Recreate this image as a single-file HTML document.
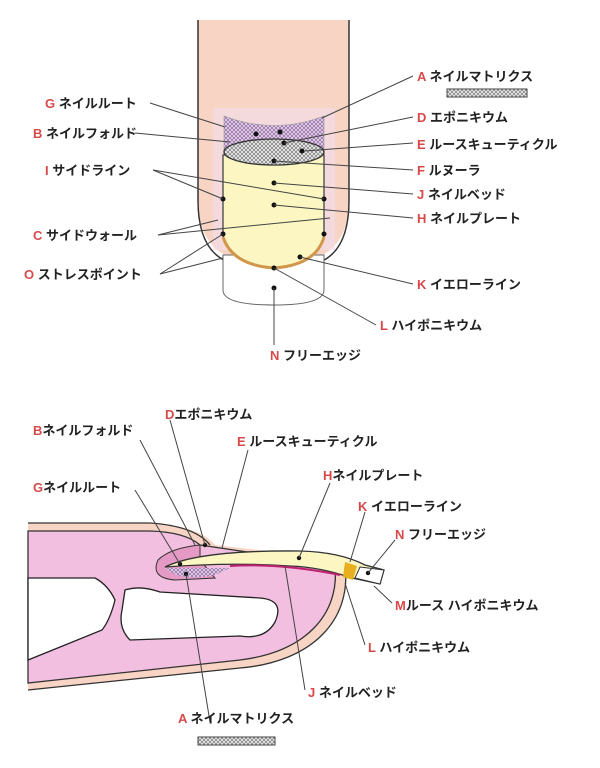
<!DOCTYPE html>
<html><head><meta charset="utf-8"><style>
html,body{margin:0;padding:0;background:#fff;}
svg{display:block}
text{font-family:"Liberation Sans","Noto Sans CJK JP",sans-serif;font-size:13px;fill:#222;font-weight:bold}
tspan.r{fill:#d84a4a}
</style></head><body>
<svg width="600" height="768" viewBox="0 0 600 768" xmlns="http://www.w3.org/2000/svg">
<defs>
<pattern id="h" width="4" height="4" patternUnits="userSpaceOnUse"><rect width="4" height="4" fill="#eee"/><path d="M0 4L4 0M0 0L4 4" stroke="#777" stroke-width="0.7"/></pattern>
<pattern id="hp" width="4" height="4" patternUnits="userSpaceOnUse"><rect width="4" height="4" fill="#e9d2ee"/><path d="M0 4L4 0M0 0L4 4" stroke="#8a6a9a" stroke-width="0.7"/></pattern>
</defs>
<!-- TOP finger -->
<path d="M198 20 L349 20 L349 200 Q349 255 300 262 L248 262 Q198 255 198 200 Z" fill="#f8d4c4"/>
<path d="M198 20 L198 200 Q198 250 228 262" fill="none" stroke="#333" stroke-width="1.5"/>
<path d="M349 20 L349 200 Q349 250 320 262" fill="none" stroke="#333" stroke-width="1.5"/>
<path d="M213 108 L335 108 L335 250 L213 250Z" fill="#f3dde8" opacity="0.7"/>
<path d="M224 116 Q274 135 324 116 L324 155 L224 155Z" fill="url(#hp)" stroke="#999" stroke-width="0.6"/>
<path d="M223 290 L223 255 L324 255 L324 290 Q324 305 274 305 Q223 305 223 290Z" fill="#fff" stroke="#666" stroke-width="1"/>
<path d="M223 155 L223 235 Q230 265 274 268 Q318 265 324 235 L324 155 Z" fill="#fbf6c2" stroke="#444" stroke-width="1.3"/>
<path d="M223 237 Q232 265 274 268 Q316 265 324 237" fill="none" stroke="#d0964a" stroke-width="3"/>
<ellipse cx="274" cy="152" rx="50" ry="13" fill="url(#h)" stroke="#333" stroke-width="1.3"/>
<g fill="#111"><circle cx="256" cy="134" r="2.5"/><circle cx="280" cy="132" r="2.5"/><circle cx="284" cy="143" r="2.5"/><circle cx="302" cy="151" r="2.5"/><circle cx="274" cy="161" r="2.5"/><circle cx="274" cy="183" r="2.5"/><circle cx="274" cy="205" r="2.5"/><circle cx="223" cy="199" r="2.5"/><circle cx="324" cy="199" r="2.5"/><circle cx="223" cy="234" r="2.5"/><circle cx="324" cy="234" r="2.5"/><circle cx="300" cy="257" r="2.5"/><circle cx="274" cy="268" r="2.5"/><circle cx="274" cy="288" r="2.5"/></g>
<g stroke="#444" stroke-width="1" fill="none">
<path d="M150 103 L225 127"/><path d="M135 133 L230 142"/><path d="M413 76 L322 118"/><path d="M413 117 L284 143"/><path d="M413 143 L305 151"/><path d="M413 170 L274 161"/><path d="M413 194 L274 183"/><path d="M413 218 L274 205"/>
<path d="M153 170 L223 199"/><path d="M153 170 L324 199"/><path d="M158 235 L218 220"/><path d="M158 235 L330 218"/>
<path d="M160 274 L223 234"/><path d="M160 274 L223 258"/><path d="M413 284 L300 257"/><path d="M376 325 L274 268"/><path d="M274 288 L274 345"/>
</g>
<rect x="447" y="89" width="80" height="8" fill="url(#h)" stroke="#444" stroke-width="1"/>
<text x="417" y="81"><tspan class="r">A</tspan> ネイルマトリクス</text>
<text x="45" y="108"><tspan class="r">G</tspan> ネイルルート</text>
<text x="417" y="122"><tspan class="r">D</tspan> エポニキウム</text>
<text x="33" y="138"><tspan class="r">B</tspan> ネイルフォルド</text>
<text x="417" y="149"><tspan class="r">E</tspan> ルースキューティクル</text>
<text x="45" y="175"><tspan class="r">I</tspan> サイドライン</text>
<text x="417" y="175"><tspan class="r">F</tspan> ルヌーラ</text>
<text x="417" y="199"><tspan class="r">J</tspan> ネイルベッド</text>
<text x="417" y="223"><tspan class="r">H</tspan> ネイルプレート</text>
<text x="33" y="240"><tspan class="r">C</tspan> サイドウォール</text>
<text x="24" y="279"><tspan class="r">O</tspan> ストレスポイント</text>
<text x="417" y="289"><tspan class="r">K</tspan> イエローライン</text>
<text x="380" y="330"><tspan class="r">L</tspan> ハイポニキウム</text>
<text x="270" y="360"><tspan class="r">N</tspan> フリーエッジ</text>
<!-- BOTTOM -->
<path d="M28 523 L150 523 Q200 526 215 545 L345 560 C352 620 312 662 240 668 L28 690 Z" fill="#f8d4c4"/>
<path d="M28 531 L150 531 Q185 532 200 545 L335 565 C340 615 305 652 240 660 L28 683 Z" fill="#f2bfe0" stroke="#333" stroke-width="1.3"/>
<path d="M28 523 L150 523 Q195 526 210 545" fill="none" stroke="#333" stroke-width="1.3"/>
<path d="M28 690 L240 668 C312 662 352 620 345 565" fill="none" stroke="#333" stroke-width="1.3"/>
<path d="M200 545 Q170 548 158 560 Q150 578 175 580 L215 578 L200 560Z" fill="#e49ac4" stroke="#333" stroke-width="1"/>
<path d="M165 568 Q180 582 215 575 L230 568Z" fill="url(#hp)"/>
<path d="M28 578 L95 578 Q108 585 115 600 Q110 620 102 630 L28 660Z" fill="#fff" stroke="#222" stroke-width="1.3"/>
<path d="M125 590 Q140 585 160 592 L260 598 Q285 600 275 622 Q265 640 240 636 L130 640 Q118 628 122 610Z" fill="#fff" stroke="#222" stroke-width="1.3"/>
<path d="M165 567 Q200 550 300 551 Q340 552 365 565 L384 570 L380 584 L352 578 Q320 567 290 566 Q230 562 165 567Z" fill="#fbf6c2" stroke="#333" stroke-width="1.3"/>
<path d="M345 562 L357 566 L353 580 L343 577Z" fill="#e8b020"/>
<path d="M360 567 L384 570 L380 584 L355 578Z" fill="#fff" stroke="#333" stroke-width="1"/>
<path d="M230 566 Q280 563 340 575" fill="none" stroke="#c02070" stroke-width="2"/>
<g fill="#111"><circle cx="180" cy="564" r="2.2"/><circle cx="186" cy="574" r="2.2"/><circle cx="205" cy="545" r="2.2"/><circle cx="299" cy="558" r="2.2"/><circle cx="368" cy="573" r="2.2"/></g>
<g stroke="#444" stroke-width="1" fill="none">
<path d="M140 440 L195 545"/><path d="M170 420 L205 545"/><path d="M248 450 L222 548"/><path d="M135 490 L180 564"/><path d="M330 483 L299 558"/><path d="M365 512 L350 562"/><path d="M395 540 L368 573"/><path d="M392 603 L374 586"/><path d="M365 645 L345 583"/><path d="M305 690 L285 566"/><path d="M210 722 L186 574"/>
</g>
<rect x="198" y="737" width="77" height="8" fill="url(#h)" stroke="#444" stroke-width="1"/>
<text x="33" y="435"><tspan class="r">B</tspan>ネイルフォルド</text>
<text x="165" y="419"><tspan class="r">D</tspan>エポニキウム</text>
<text x="237" y="446"><tspan class="r">E</tspan> ルースキューティクル</text>
<text x="33" y="492"><tspan class="r">G</tspan>ネイルルート</text>
<text x="323" y="480"><tspan class="r">H</tspan>ネイルプレート</text>
<text x="358" y="511"><tspan class="r">K</tspan> イエローライン</text>
<text x="395" y="539"><tspan class="r">N</tspan> フリーエッジ</text>
<text x="395" y="610"><tspan class="r">M</tspan>ルース ハイポニキウム</text>
<text x="368" y="652"><tspan class="r">L</tspan> ハイポニキウム</text>
<text x="308" y="697"><tspan class="r">J</tspan> ネイルベッド</text>
<text x="178" y="723"><tspan class="r">A</tspan> ネイルマトリクス</text>
</svg>
</body></html>
